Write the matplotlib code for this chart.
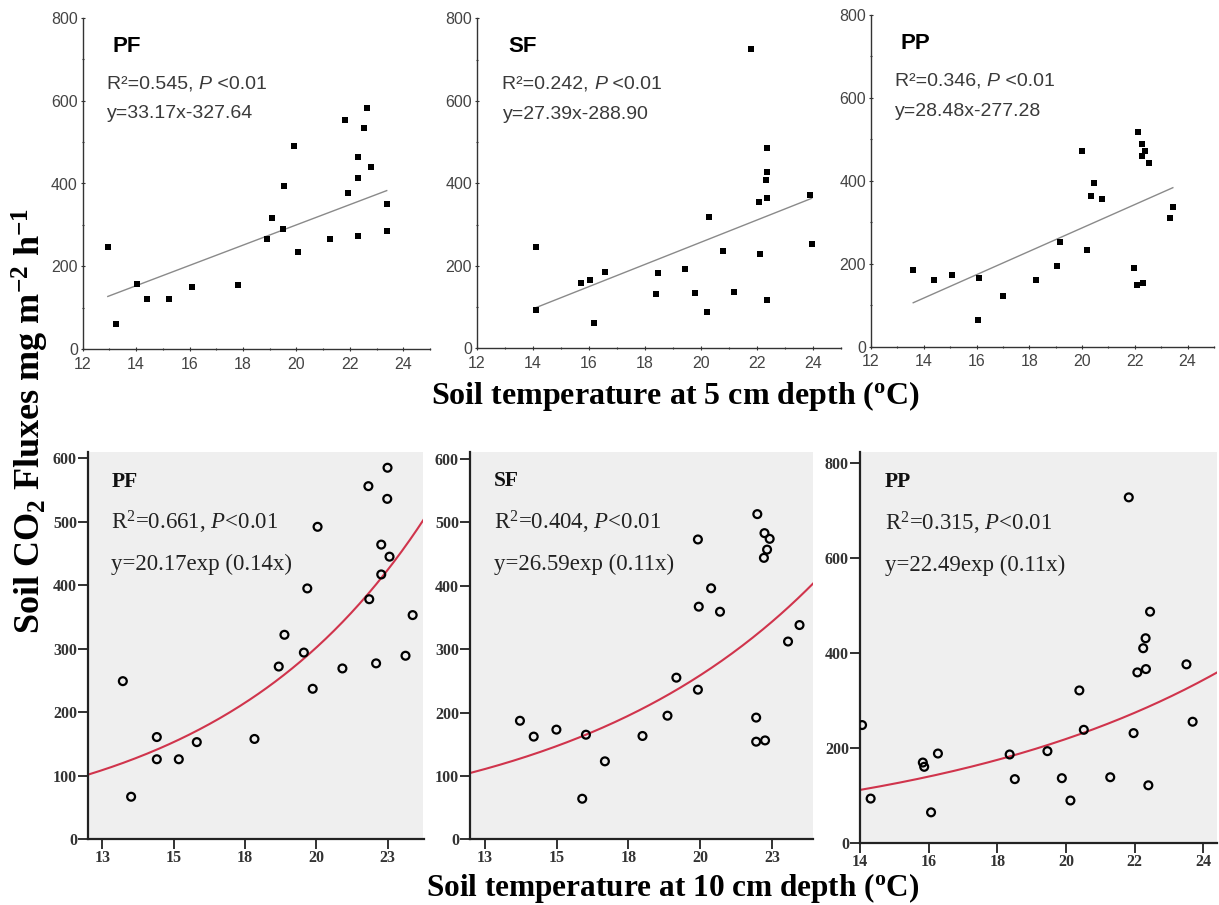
import numpy as np
import matplotlib
matplotlib.use("Agg")
import matplotlib.pyplot as plt
from matplotlib.ticker import MultipleLocator, FixedLocator

plt.rcParams["mathtext.fontset"] = "custom"
plt.rcParams["mathtext.rm"] = "Liberation Serif"
plt.rcParams["mathtext.it"] = "Liberation Serif:italic"
plt.rcParams["mathtext.bf"] = "Liberation Serif:bold"

# ---------------- data ----------------
sites = ["PF", "SF", "PP"]

# soil temperature at 5 cm (top row) and flux
pf_t5 = [12.94, 13.25, 14.05, 14.40, 15.24, 16.08, 17.83, 18.89, 19.10, 19.51, 19.55, 19.92,
         20.05, 21.27, 21.82, 21.92, 22.32, 22.32, 22.32, 22.53, 22.63, 22.81, 23.38, 23.38]
pf_f5 = [246, 61, 157, 120, 122, 149, 154, 267, 317, 290, 393, 490,
         234, 267, 554, 376, 463, 413, 272, 534, 583, 441, 351, 286]

sf_t5 = [14.12, 14.12, 15.71, 16.04, 16.18, 16.57, 18.38, 18.48, 19.44, 19.78, 20.20, 20.29,
         20.79, 21.19, 21.79, 22.06, 22.10, 22.34, 22.34, 22.32, 22.34, 22.34, 23.89, 23.95]
sf_f5 = [93, 246, 159, 166, 61, 186, 131, 183, 193, 135, 87, 318,
         235, 136, 725, 355, 229, 486, 427, 408, 364, 117, 372, 252]

pp_t5 = [13.60, 14.39, 15.06, 16.10, 16.07, 17.01, 18.24, 19.04, 19.17, 19.98, 20.17, 20.34,
         20.45, 20.74, 21.98, 22.07, 22.32, 22.13, 22.28, 22.29, 22.37, 22.52, 23.33, 23.44]
pp_f5 = [185, 162, 174, 165, 64, 122, 162, 194, 252, 471, 233, 364,
         395, 356, 190, 150, 154, 518, 459, 488, 473, 442, 311, 337]

# linear fit lines as drawn in the top row (slope, intercept)
lin_slope = [24.5, 26.9, 28.2]
lin_icpt = [-190.0, -280.8, -277.5]

# soil temperature at 10 cm (bottom row) and flux
pf_t10 = [13.22, 13.51, 14.41, 14.41, 15.18, 15.81, 17.83, 18.68, 18.88, 19.56, 19.68, 19.87,
          20.04, 20.91, 21.82, 21.85, 22.09, 22.27, 22.27, 22.49, 22.48, 22.56, 23.12, 23.37]
pf_f10 = [249, 67, 161, 126, 126, 153, 158, 272, 322, 294, 395, 237,
          492, 269, 556, 378, 277, 464, 417, 585, 536, 445, 289, 353]

sf_t10 = [13.72, 14.20, 14.99, 16.02, 15.89, 16.68, 17.99, 18.86, 19.17, 19.92, 19.92, 19.95,
          20.38, 20.69, 21.95, 21.99, 21.95, 22.26, 22.24, 22.42, 22.33, 22.22, 23.06, 23.46]
sf_f10 = [187, 162, 173, 165, 64, 123, 163, 195, 255, 236, 473, 367,
          396, 359, 192, 513, 154, 156, 483, 474, 457, 444, 312, 338]

pp_t10 = [14.06, 14.31, 15.83, 15.87, 16.07, 16.27, 18.36, 18.51, 19.46, 19.88, 20.13, 20.39,
          20.52, 21.29, 21.83, 21.97, 22.08, 22.25, 22.32, 22.33, 22.45, 22.40, 23.51, 23.69]
pp_f10 = [248, 93, 169, 160, 64, 188, 186, 134, 193, 136, 89, 321,
          238, 138, 728, 231, 359, 410, 431, 366, 487, 121, 376, 255]

# exponential curves as drawn (a * exp(b * x))
exp_a = [19.9, 27.0, 23.0]
exp_b = [0.136, 0.113, 0.1126]

top_r2 = ["R\u00b2=0.545, ", "R\u00b2=0.242, ", "R\u00b2=0.346, "]
top_eqs = ["y=33.17x-327.64", "y=27.39x-288.90", "y=28.48x-277.28"]
bot_stats = ["R$^2$=0.661, $P$<0.01", "R$^2$=0.404, $P$<0.01", "R$^2$=0.315, $P$<0.01"]
bot_eqs = ["y=20.17exp (0.14x)", "y=26.59exp (0.11x)", "y=22.49exp (0.11x)"]

bot_xticks_ab = [12.5, 15, 17.5, 20, 22.5]
bot_xlabels_ab = ["13", "15", "18", "20", "23"]
bot_xticks_c = [14, 16, 18, 20, 22, 24]
bot_xlabels_c = ["14", "16", "18", "20", "22", "24"]

top_t = [pf_t5, sf_t5, pp_t5]
top_f = [pf_f5, sf_f5, pp_f5]
bot_t = [pf_t10, sf_t10, pp_t10]
bot_f = [pf_f10, sf_f10, pp_f10]

# ---------------- figure ----------------
W, H = 1219, 905
fig = plt.figure(figsize=(W / 100, H / 100), dpi=100)


def rect(x0, x1, ytop, ybot):
    return [x0 / W, 1 - ybot / H, (x1 - x0) / W, (ybot - ytop) / H]


top_rects = [rect(82.7, 430, 18, 349), rect(477, 841, 18.3, 348.3), rect(871, 1214, 15, 346.7)]
bot_rects = [rect(88, 423.5, 452.5, 839.3), rect(470, 813, 452, 839.3), rect(860, 1217, 452.3, 842.7)]
bot_xlim = [(12.0, 23.75), (11.98, 23.93), (14.0, 24.4)]
bot_ylim = [609, 611, 823]

sans = ["Liberation Sans", "DejaVu Sans"]
serif = ["Liberation Serif", "DejaVu Serif"]
txt_gray = "#3a3a3a"

# top row
for i in range(3):
    ax = fig.add_axes(top_rects[i])
    x = np.array(top_t[i])
    y = np.array(top_f[i])
    ax.scatter(x, y, marker="s", s=14, color="black", zorder=3, linewidths=0)
    xl = np.array([x.min(), x.max()])
    ax.plot(xl, lin_slope[i] * xl + lin_icpt[i], color="#8a8a8a", lw=1.0)
    ax.set_xlim(12, 25)
    ax.set_ylim(0, 800)
    for s in ["top", "right"]:
        ax.spines[s].set_visible(False)
    for s in ["left", "bottom"]:
        ax.spines[s].set_color("#333333")
        ax.spines[s].set_linewidth(1.0)
    ax.xaxis.set_major_locator(FixedLocator([12, 14, 16, 18, 20, 22, 24]))
    ax.xaxis.set_minor_locator(MultipleLocator(1))
    ax.yaxis.set_major_locator(MultipleLocator(200))
    ax.yaxis.set_minor_locator(MultipleLocator(100))
    ax.tick_params(which="both", direction="inout", length=3, width=0.8, color="#333333",
                   labelsize=11.5, labelcolor="#444444", pad=2)
    ax.tick_params(axis="x", pad=4)
    ax.tick_params(which="minor", length=2)
    for lab in ax.get_xticklabels() + ax.get_yticklabels():
        lab.set_family(sans)
    ax.text(0.085, 0.915, sites[i], transform=ax.transAxes, fontsize=16, fontweight="bold",
            family=sans, va="center", ha="left", color="black")
    t1 = ax.text(0.07, 0.80, top_r2[i], transform=ax.transAxes, fontsize=14,
                 family=sans, va="center", ha="left", color=txt_gray)
    t2 = ax.annotate("P", xy=(1, 0), xycoords=t1, fontsize=14, family=sans, style="italic",
                     va="bottom", ha="left", color=txt_gray)
    ax.annotate(" <0.01", xy=(1, 0), xycoords=t2, fontsize=14, family=sans,
                va="bottom", ha="left", color=txt_gray)
    ax.text(0.07, 0.71, top_eqs[i], transform=ax.transAxes, fontsize=14,
            family=sans, va="center", ha="left", color=txt_gray)

# bottom row
for i in range(3):
    ax = fig.add_axes(bot_rects[i])
    ax.set_facecolor("#efefef")
    x = np.array(bot_t[i])
    y = np.array(bot_f[i])
    ax.scatter(x, y, marker="o", s=32, facecolors="none", edgecolors="black",
               linewidths=1.6, zorder=3)
    xl = np.linspace(bot_xlim[i][0], bot_xlim[i][1], 200)
    ax.plot(xl, exp_a[i] * np.exp(exp_b[i] * xl), color="#d0344c", lw=1.5, zorder=2)
    ax.set_xlim(*bot_xlim[i])
    ax.set_ylim(0, bot_ylim[i])
    for s in ["top", "right"]:
        ax.spines[s].set_visible(False)
    for s in ["left", "bottom"]:
        ax.spines[s].set_color("#222222")
        ax.spines[s].set_linewidth(1.6)
    if i < 2:
        ax.set_xticks(bot_xticks_ab)
        ax.set_xticklabels(bot_xlabels_ab)
        ax.yaxis.set_major_locator(MultipleLocator(100))
    else:
        ax.set_xticks(bot_xticks_c)
        ax.set_xticklabels(bot_xlabels_c)
        ax.yaxis.set_major_locator(MultipleLocator(200))
    ax.tick_params(direction="out", length=7, width=1.3, color="#222222",
                   labelsize=11.5, labelcolor="#333333", pad=1.0)
    for lab in ax.get_xticklabels() + ax.get_yticklabels():
        lab.set_family(serif)
        lab.set_fontweight("bold")
    ax.text(0.07, 0.925, sites[i], transform=ax.transAxes, fontsize=15.5, fontweight="bold",
            family=serif, va="center", ha="left", color="#111111")
    ax.text(0.07, 0.818, bot_stats[i], transform=ax.transAxes, fontsize=16.5,
            family=serif, va="center", ha="left", color="#222222")
    ax.text(0.07, 0.71, bot_eqs[i], transform=ax.transAxes, fontsize=16.5,
            family=serif, va="center", ha="left", color="#222222")

# shared labels
fig.text(676 / W, 1 - 404 / H, "Soil temperature at 5 cm depth ($^\\mathbf{o}$C)",
         ha="center", va="baseline", fontsize=23, fontweight="bold", family=serif)
fig.text(673 / W, 1 - 896 / H, "Soil temperature at 10 cm depth ($^\\mathbf{o}$C)",
         ha="center", va="baseline", fontsize=22.5, fontweight="bold", family=serif)
fig.text(30 / W, 1 - 421 / H,
         "Soil CO$_\\mathbf{2}$ Fluxes mg m$^\\mathbf{-2}$ h$^\\mathbf{-1}$",
         ha="center", va="center", rotation=90, fontsize=26, fontweight="bold", family=serif)

fig.savefig("out.png", dpi=100)
